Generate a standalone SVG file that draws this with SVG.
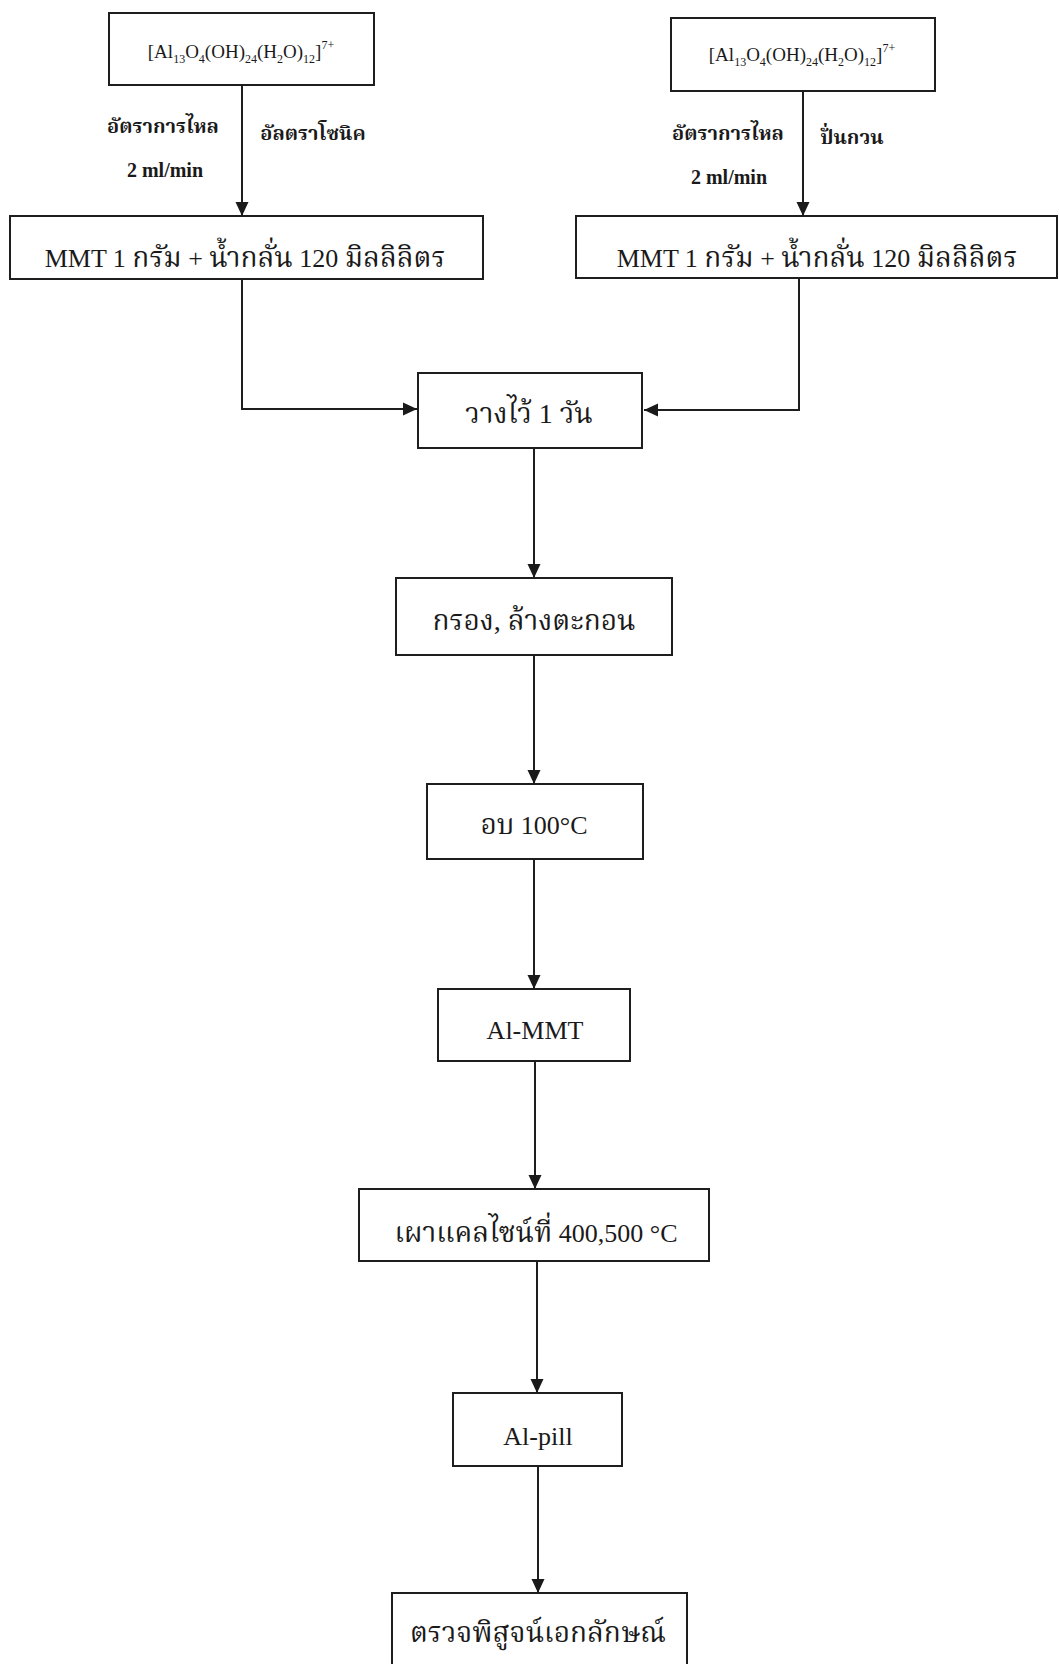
<svg xmlns="http://www.w3.org/2000/svg" width="1059" height="1664" viewBox="0 0 1059 1664">
<style>
  .box { fill: #ffffff; stroke: #1e1e1e; stroke-width: 2; }
  .conn { fill: none; stroke: #1e1e1e; stroke-width: 2; }
  .t { font-family: "Liberation Serif", "Noto Serif Thai", "Noto Sans Thai", serif; fill: #1a1a1a; text-anchor: middle; }
  .main { font-size: 26px; }
  .thai { font-size: 28px; }
  .formula { font-size: 19px; }
  .sub { font-size: 12px; }
  .lbl { font-size: 20px; font-weight: bold; }
</style>
<defs>
  <marker id="arr" markerUnits="userSpaceOnUse" markerWidth="14" markerHeight="14" viewBox="0 0 14 14" refX="14" refY="7" orient="auto">
    <path d="M0,0.5 L14,7 L0,13.5 Z" fill="#1a1a1a"/>
  </marker>
</defs>
<rect x="0" y="0" width="1059" height="1664" fill="#ffffff"/>

<g id="connectors">
  <line class="conn" x1="242" y1="85" x2="242" y2="216" marker-end="url(#arr)"/>
  <line class="conn" x1="803" y1="91" x2="803" y2="216" marker-end="url(#arr)"/>
  <path class="conn" d="M242,279 V409 H417" marker-end="url(#arr)"/>
  <path class="conn" d="M799,278 V410 H644" marker-end="url(#arr)"/>
  <line class="conn" x1="534" y1="448" x2="534" y2="578" marker-end="url(#arr)"/>
  <line class="conn" x1="534" y1="655" x2="534" y2="784" marker-end="url(#arr)"/>
  <line class="conn" x1="534" y1="859" x2="534" y2="989" marker-end="url(#arr)"/>
  <line class="conn" x1="535" y1="1061" x2="535" y2="1189" marker-end="url(#arr)"/>
  <line class="conn" x1="537" y1="1261" x2="537" y2="1393" marker-end="url(#arr)"/>
  <line class="conn" x1="538" y1="1466" x2="538" y2="1593" marker-end="url(#arr)"/>
</g>

<g id="labels">
  <text class="t lbl" x="163" y="133">อัตราการไหล</text>
  <text class="t lbl" x="165" y="177">2 ml/min</text>
  <text class="t lbl" x="313" y="140">อัลตราโซนิค</text>
  <text class="t lbl" x="728" y="140">อัตราการไหล</text>
  <text class="t lbl" x="729" y="184">2 ml/min</text>
  <text class="t lbl" x="852" y="144">ปั่นกวน</text>
</g>

<g id="node-al13-left">
  <rect class="box" x="109" y="13" width="265" height="72"/>
  <text class="t formula" x="241" y="58">[Al<tspan class="sub" dy="5">13</tspan><tspan dy="-5">O</tspan><tspan class="sub" dy="5">4</tspan><tspan dy="-5">(OH)</tspan><tspan class="sub" dy="5">24</tspan><tspan dy="-5">(H</tspan><tspan class="sub" dy="5">2</tspan><tspan dy="-5">O)</tspan><tspan class="sub" dy="5">12</tspan><tspan dy="-5">]</tspan><tspan class="sub" dy="-9">7+</tspan></text>
</g>

<g id="node-al13-right">
  <rect class="box" x="671" y="18" width="264" height="73"/>
  <text class="t formula" x="802" y="61">[Al<tspan class="sub" dy="5">13</tspan><tspan dy="-5">O</tspan><tspan class="sub" dy="5">4</tspan><tspan dy="-5">(OH)</tspan><tspan class="sub" dy="5">24</tspan><tspan dy="-5">(H</tspan><tspan class="sub" dy="5">2</tspan><tspan dy="-5">O)</tspan><tspan class="sub" dy="5">12</tspan><tspan dy="-5">]</tspan><tspan class="sub" dy="-9">7+</tspan></text>
</g>

<g id="node-mmt-left">
  <rect class="box" x="10" y="216" width="473" height="63"/>
  <text class="t main" x="245" y="267">MMT 1 <tspan class="thai">กรัม</tspan> + <tspan class="thai">น้ำกลั่น</tspan> 120 <tspan class="thai">มิลลิลิตร</tspan></text>
</g>

<g id="node-mmt-right">
  <rect class="box" x="576" y="216" width="481" height="62"/>
  <text class="t main" x="817" y="267">MMT 1 <tspan class="thai">กรัม</tspan> + <tspan class="thai">น้ำกลั่น</tspan> 120 <tspan class="thai">มิลลิลิตร</tspan></text>
</g>

<g id="node-rest">
  <rect class="box" x="418" y="373" width="224" height="75"/>
  <text class="t thai" x="529" y="423">วางไว้ 1 วัน</text>
</g>

<g id="node-filter">
  <rect class="box" x="396" y="578" width="276" height="77"/>
  <text class="t thai" x="534" y="630">กรอง, ล้างตะกอน</text>
</g>

<g id="node-dry">
  <rect class="box" x="427" y="784" width="216" height="75"/>
  <text class="t main" x="534" y="834"><tspan class="thai">อบ</tspan> 100°C</text>
</g>

<g id="node-almmt">
  <rect class="box" x="438" y="989" width="192" height="72"/>
  <text class="t main" x="535" y="1039">Al-MMT</text>
</g>

<g id="node-calcine">
  <rect class="box" x="359" y="1189" width="350" height="72"/>
  <text class="t main" x="536" y="1242"><tspan class="thai">เผาแคลไซน์ที่</tspan> 400,500 °C</text>
</g>

<g id="node-alpill">
  <rect class="box" x="453" y="1393" width="169" height="73"/>
  <text class="t main" x="538" y="1445">Al-pill</text>
</g>

<g id="node-characterize">
  <rect class="box" x="392" y="1593" width="295" height="90"/>
  <text class="t thai" x="538" y="1642">ตรวจพิสูจน์เอกลักษณ์</text>
</g>
</svg>
